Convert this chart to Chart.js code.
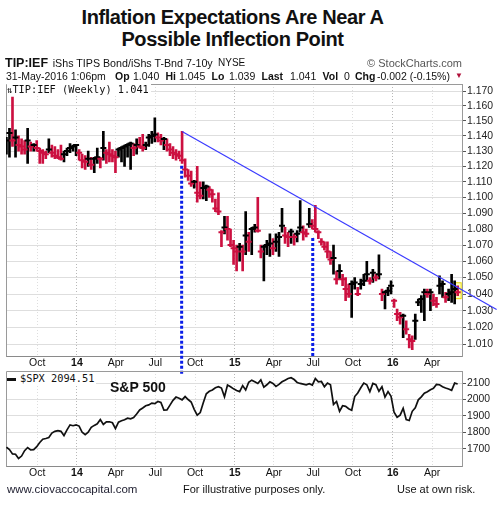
<!DOCTYPE html>
<html>
<head>
<meta charset="utf-8">
<script src="https://cdn.jsdelivr.net/npm/chart.js@4.4.1/dist/chart.umd.min.js"></script>
<style>
  body { margin: 0; background: #fff; }
  #wrap { position: relative; width: 497px; height: 509px; overflow: hidden;
          font-family: Arial, "Liberation Sans", sans-serif; color: #111; }
  .t { position: absolute; white-space: nowrap; }
  canvas { position: absolute; left: 0; }
  .b { font-weight: bold; }
  .mono { font-family: "DejaVu Sans Mono", monospace; font-size: 10.3px; line-height: 12px; background: #fff; }
</style>
</head>
<body>
<div id="wrap">
  <canvas id="priceChart" width="497" height="300" style="top:78px"></canvas>
  <canvas id="spxChart" width="497" height="112" style="top:368px"></canvas>

  <div class="t b" style="left:0;width:465px;top:6px;text-align:center;font-size:20px;line-height:22px;letter-spacing:-0.4px">Inflation Expectations Are Near A<br>Possible Inflection Point</div>

  <!-- header line 1 -->
  <div class="t b" style="left:5px;top:56px;font-size:12.5px;line-height:14px">TIP:IEF</div>
  <div class="t" style="left:52.7px;top:56px;font-size:10.7px;line-height:14px">iShs TIPS Bond/iShs T-Bnd 7-10y</div>
  <div class="t" style="left:218px;top:56px;font-size:10px;line-height:14px">NYSE</div>
  <div class="t" style="right:35px;top:56px;font-size:11px;line-height:14px;color:#555">© StockCharts.com</div>

  <!-- header line 2 -->
  <div class="t" style="left:6px;top:69px;font-size:10.5px;line-height:14px">31-May-2016 1:06pm</div>
  <div class="t b" style="left:115px;top:69px;font-size:10.5px;line-height:14px">Op</div>
  <div class="t" style="left:133px;top:69px;font-size:10.5px;line-height:14px">1.040</div>
  <div class="t b" style="left:165.5px;top:69px;font-size:10.5px;line-height:14px">Hi</div>
  <div class="t" style="left:179px;top:69px;font-size:10.5px;line-height:14px">1.045</div>
  <div class="t b" style="left:211.5px;top:69px;font-size:10.5px;line-height:14px">Lo</div>
  <div class="t" style="left:229px;top:69px;font-size:10.5px;line-height:14px">1.039</div>
  <div class="t b" style="left:261.5px;top:69px;font-size:10.5px;line-height:14px">Last</div>
  <div class="t" style="left:290px;top:69px;font-size:10.5px;line-height:14px">1.041</div>
  <div class="t b" style="left:322.5px;top:69px;font-size:10.5px;line-height:14px">Vol</div>
  <div class="t" style="left:344px;top:69px;font-size:10.5px;line-height:14px">0</div>
  <div class="t b" style="left:355px;top:69px;font-size:10.5px;line-height:14px">Chg</div>
  <div class="t" style="left:377px;top:69px;font-size:10.5px;line-height:14px">-0.002 (-0.15%)</div>
  <div class="t" style="left:455px;top:69px;font-size:8px;line-height:14px;color:#b0103a">▼</div>

  <!-- legends -->
  <div class="t mono" style="left:7px;top:83px;padding-right:2px"><span style="font-size:9px">⇅</span>TIP:IEF (Weekly) 1.041</div>
  <div class="t mono" style="left:7px;top:372px;padding-right:2px"><span style="display:inline-block;width:9px;height:3px;background:#111;vertical-align:middle;margin-right:4px"></span>$SPX 2094.51</div>
  <div class="t b" style="left:110px;top:379px;font-size:14px;line-height:16px">S&amp;P 500</div>

  <!-- footer -->
  <div class="t" style="left:7px;top:482px;font-size:11.5px;line-height:14px;color:#223">www.ciovaccocapital.com</div>
  <div class="t" style="left:183px;top:482px;font-size:11px;line-height:14px">For illustrative purposes only.</div>
  <div class="t" style="left:397px;top:482px;font-size:11px;line-height:14px">Use at own risk.</div>
</div>

<script>
// weekly bars, first week starts here
const firstWeek = '2013-07-22';
const axisStart = '2013-07-21';
const axisEnd = '2016-06-09';

const tickDates = ['2013-10-01', '2014-01-01', '2014-04-01', '2014-07-01', '2014-10-01', '2015-01-01',
  '2015-04-01', '2015-07-01', '2015-10-01', '2016-01-01', '2016-04-01'];
const tickLabels = ['Oct', '14', 'Apr', 'Jul', 'Oct', '15', 'Apr', 'Jul', 'Oct', '16', 'Apr'];

const priceTicks = [1.010, 1.020, 1.030, 1.040, 1.050, 1.060, 1.070, 1.080, 1.090,
  1.100, 1.110, 1.120, 1.130, 1.140, 1.150, 1.160, 1.170];
const spxTicks = [1700, 1800, 1900, 2000, 2100];

// TIP:IEF weekly high / low / close
const highs = [
  1.139, 1.145, 1.166, 1.144, 1.140, 1.138, 1.137, 1.145, 1.136, 1.135,
  1.137, 1.132, 1.131, 1.130, 1.138, 1.134, 1.133, 1.131, 1.134, 1.130,
  1.132, 1.135, 1.134, 1.134, 1.131, 1.128, 1.127, 1.130, 1.126, 1.126,
  1.132, 1.126, 1.143, 1.131, 1.136, 1.131, 1.130, 1.132, 1.133, 1.134,
  1.135, 1.136, 1.135, 1.138, 1.139, 1.141, 1.136, 1.141, 1.143, 1.152,
  1.142, 1.141, 1.139, 1.138, 1.135, 1.133, 1.131, 1.130, 1.143, 1.125,
  1.118, 1.117, 1.111, 1.120, 1.110, 1.110, 1.108, 1.107, 1.105, 1.099,
  1.103, 1.079, 1.088, 1.088, 1.080, 1.073, 1.070, 1.071, 1.070, 1.091,
  1.078, 1.081, 1.083, 1.100, 1.070, 1.070, 1.073, 1.077, 1.074, 1.077,
  1.078, 1.093, 1.081, 1.078, 1.080, 1.077, 1.079, 1.098, 1.082, 1.080,
  1.093, 1.086, 1.095, 1.079, 1.074, 1.072, 1.072, 1.066, 1.070, 1.054,
  1.058, 1.052, 1.050, 1.046, 1.048, 1.050, 1.044, 1.049, 1.052, 1.060,
  1.050, 1.055, 1.052, 1.064, 1.043, 1.042, 1.044, 1.048, 1.037, 1.031,
  1.029, 1.028, 1.024, 1.016, 1.015, 1.028, 1.037, 1.039, 1.043, 1.043,
  1.043, 1.040, 1.038, 1.051, 1.048, 1.041, 1.043, 1.052, 1.048, 1.045
];
const lows = [
  1.128, 1.126, 1.133, 1.126, 1.130, 1.128, 1.128, 1.122, 1.130, 1.130,
  1.130, 1.122, 1.122, 1.125, 1.129, 1.126, 1.125, 1.125, 1.124, 1.123,
  1.127, 1.129, 1.130, 1.127, 1.124, 1.119, 1.118, 1.120, 1.118, 1.116,
  1.122, 1.119, 1.124, 1.122, 1.123, 1.123, 1.116, 1.126, 1.123, 1.120,
  1.126, 1.118, 1.127, 1.128, 1.132, 1.130, 1.131, 1.133, 1.135, 1.136,
  1.136, 1.134, 1.131, 1.130, 1.127, 1.125, 1.124, 1.125, 1.122, 1.113,
  1.111, 1.107, 1.106, 1.097, 1.099, 1.099, 1.098, 1.100, 1.097, 1.091,
  1.089, 1.069, 1.077, 1.073, 1.069, 1.058, 1.054, 1.060, 1.054, 1.064,
  1.066, 1.064, 1.078, 1.078, 1.062, 1.048, 1.064, 1.063, 1.064, 1.066,
  1.063, 1.078, 1.071, 1.069, 1.071, 1.070, 1.072, 1.078, 1.073, 1.075,
  1.081, 1.080, 1.078, 1.074, 1.070, 1.067, 1.062, 1.058, 1.052, 1.046,
  1.049, 1.045, 1.036, 1.038, 1.026, 1.043, 1.039, 1.043, 1.045, 1.048,
  1.046, 1.047, 1.048, 1.049, 1.036, 1.031, 1.039, 1.040, 1.032, 1.024,
  1.022, 1.014, 1.016, 1.008, 1.007, 1.013, 1.033, 1.029, 1.024, 1.038,
  1.030, 1.033, 1.032, 1.040, 1.038, 1.035, 1.036, 1.035, 1.034, 1.039
];
const closes = [
  1.137, 1.142, 1.137, 1.139, 1.134, 1.133, 1.131, 1.137, 1.133, 1.134,
  1.132, 1.130, 1.129, 1.128, 1.131, 1.129, 1.127, 1.126, 1.125, 1.128,
  1.130, 1.132, 1.133, 1.134, 1.129, 1.124, 1.123, 1.125, 1.121, 1.125,
  1.126, 1.125, 1.132, 1.129, 1.128, 1.127, 1.126, 1.131, 1.132, 1.133,
  1.134, 1.135, 1.132, 1.134, 1.133, 1.132, 1.134, 1.139, 1.140, 1.141,
  1.139, 1.137, 1.138, 1.134, 1.131, 1.129, 1.128, 1.127, 1.124, 1.118,
  1.114, 1.109, 1.110, 1.103, 1.101, 1.106, 1.107, 1.105, 1.102, 1.093,
  1.091, 1.078, 1.081, 1.080, 1.070, 1.068, 1.066, 1.069, 1.066, 1.076,
  1.072, 1.080, 1.081, 1.079, 1.066, 1.069, 1.070, 1.071, 1.068, 1.072,
  1.075, 1.082, 1.076, 1.075, 1.0785, 1.075, 1.077, 1.081, 1.078, 1.077,
  1.083, 1.082, 1.080, 1.078, 1.072, 1.069, 1.066, 1.061, 1.062, 1.049,
  1.054, 1.049, 1.043, 1.040, 1.046, 1.047, 1.040, 1.046, 1.048, 1.052,
  1.048, 1.053, 1.050, 1.052, 1.040, 1.041, 1.042, 1.045, 1.036, 1.028,
  1.026, 1.027, 1.019, 1.013, 1.012, 1.024, 1.035, 1.037, 1.041, 1.040,
  1.041, 1.036, 1.034, 1.045, 1.046, 1.038, 1.040, 1.041, 1.043, 1.041
];

// $SPX weekly closes
const spx = [
  1709, 1695, 1668, 1666, 1640, 1655, 1688, 1707, 1692, 1694,
  1712, 1738, 1758, 1762, 1768, 1795, 1806, 1810, 1806, 1780,
  1815, 1845, 1840, 1845, 1838, 1800, 1786, 1800, 1830, 1842,
  1852, 1878, 1848, 1864, 1864, 1858, 1822, 1862, 1870, 1876,
  1886, 1882, 1890, 1912, 1936, 1948, 1962, 1967, 1978, 1975,
  1988, 1982, 1935, 1937, 1966, 1995, 2015, 2008, 1998, 2018,
  2000, 1985, 1940, 1905, 1920, 1980, 2035, 2050, 2058, 2072,
  2078, 2070, 2017, 2088, 2078, 2065, 2055, 2048, 2085, 2058,
  2105, 2118, 2108, 2098, 2120, 2075, 2090, 2108, 2098, 2080,
  2092, 2108, 2118, 2128, 2133, 2122, 2104, 2098, 2094, 2090,
  2096, 2088, 2128, 2108, 2110, 2078, 2100, 2090, 1970, 1988,
  1928, 1962, 1958, 1944, 1935, 2018, 2040, 2072, 2100, 2090,
  2048, 2098, 2090, 2050, 2078, 2015, 2048, 2020, 1922, 1892,
  1905, 1946, 1878, 1872, 1928, 1950, 1998, 2016, 2038, 2048,
  2060, 2068, 2092, 2090, 2078, 2070, 2064, 2056, 2100, 2094.51
];

// annotations
const trendDates = ['2014-09-01', '2016-08-28'];
const trendValues = [1.143, 1.0307];
const markerDates = ['2014-08-31', '2015-06-30'];
const markerTops = [1.1205, 1.0744];
const markerBottoms = [0.9924, 1.003];

const fontFamily = 'Arial, "Liberation Sans", sans-serif';
const red = '#cc1040';
Chart.defaults.font.family = fontFamily;

const dayOf = s => (Date.parse(s) - Date.parse(firstWeek)) / 864e5;
const weekDays = closes.map((c, i) => i * 7);
const isYear = i => /^\d+$/.test(tickLabels[i] || '');
const barColors = closes.map((c, i) => (i > 0 && c < closes[i - 1]) ? red : '#000');

function timeAxis(axisHeight) {
  return {
    type: 'linear',
    min: dayOf(axisStart),
    max: dayOf(axisEnd),
    offset: false,
    bounds: 'data',
    afterBuildTicks: s => { s.ticks = tickDates.map(d => ({ value: dayOf(d) })); },
    afterFit: s => { s.height = axisHeight; s.paddingLeft = 0; s.paddingRight = 0; },
    grid: { drawTicks: false, offset: false, color: c => isYear(c.index) ? '#b8b8b8' : '#dedede' },
    border: { display: true, color: '#8a8a8a', dash: [1, 2] },
    ticks: {
      autoSkip: false, maxRotation: 0, padding: 0, color: '#111',
      font: c => ({ family: fontFamily, size: 10.5, weight: isYear(c.index) ? 'bold' : 'normal' }),
      callback: (v, i) => tickLabels[i]
    }
  };
}

function valueAxis(type, min, max, ticks, fmt) {
  return {
    type: type,
    position: 'right',
    min: min,
    max: max,
    bounds: 'data',
    afterBuildTicks: s => { s.ticks = ticks.map(v => ({ value: v })); },
    afterFit: s => { s.width = 35; s.paddingTop = 0; s.paddingBottom = 0; },
    grid: { color: '#dedede', tickLength: 4, tickColor: '#555' },
    border: { display: true, color: '#9a9a9a' },
    ticks: { autoSkip: false, padding: 1, color: '#222', font: { size: 10.4 }, callback: fmt }
  };
}

// left and top edge of each panel
const panelFrame = {
  id: 'panelFrame',
  beforeDatasetsDraw(chart) {
    const { ctx, chartArea: a } = chart;
    ctx.save();
    ctx.strokeStyle = '#9a9a9a';
    ctx.lineWidth = 1;
    ctx.beginPath();
    ctx.moveTo(a.left + 0.5, a.bottom);
    ctx.lineTo(a.left + 0.5, a.top + 0.5);
    ctx.lineTo(a.right, a.top + 0.5);
    ctx.stroke();
    ctx.restore();
  }
};

// yellow box round the current week
const lastBarBox = {
  id: 'lastBarBox',
  beforeDatasetsDraw(chart) {
    const i = closes.length - 1;
    const x = chart.scales.x.getPixelForValue(weekDays[i]);
    const yTop = chart.scales.y.getPixelForValue(highs[i]);
    const yBot = chart.scales.y.getPixelForValue(lows[i]);
    const ctx = chart.ctx;
    ctx.save();
    ctx.fillStyle = '#ffffc0';
    ctx.strokeStyle = '#e8d800';
    ctx.lineWidth = 1;
    ctx.fillRect(x - 3.5, yTop - 3, 7, yBot - yTop + 6);
    ctx.strokeRect(x - 3.5, yTop - 3, 7, yBot - yTop + 6);
    ctx.restore();
  }
};

new Chart(document.getElementById('priceChart'), {
  type: 'bar',
  data: {
    datasets: [
      {
        type: 'bar',
        data: weekDays.map((d, i) => ({ x: d, y: [lows[i], highs[i]] })),
        backgroundColor: barColors,
        barThickness: 2,
        borderWidth: 0,
        order: 4
      },
      {
        type: 'line',
        data: weekDays.map((d, i) => ({ x: d, y: closes[i] })),
        showLine: false,
        pointStyle: 'line',
        pointRadius: 3,
        pointBorderWidth: 2,
        pointBorderColor: barColors,
        pointBackgroundColor: barColors,
        order: 3
      },
      {
        type: 'line',
        data: trendDates.map((d, i) => ({ x: dayOf(d), y: trendValues[i] })),
        borderColor: '#3a3aff',
        borderWidth: 1.2,
        pointRadius: 0,
        clip: false,
        order: 1
      },
      ...markerDates.map((d, i) => ({
        type: 'line',
        data: [{ x: dayOf(d), y: markerTops[i] }, { x: dayOf(d), y: markerBottoms[i] }],
        borderColor: '#0a1ee8',
        borderWidth: 3,
        borderDash: [3, 2],
        pointRadius: 0,
        clip: false,
        order: 0
      }))
    ]
  },
  options: {
    responsive: false,
    animation: false,
    layout: { padding: { top: 3, left: 6, right: 0, bottom: 0 } },
    plugins: { legend: { display: false }, tooltip: { enabled: false } },
    scales: {
      x: timeAxis(21.3),
      y: valueAxis('logarithmic', 1.00283, 1.1749, priceTicks, v => Number(v).toFixed(3))
    }
  },
  plugins: [panelFrame, lastBarBox]
});

new Chart(document.getElementById('spxChart'), {
  type: 'line',
  data: {
    datasets: [{
      data: weekDays.map((d, i) => ({ x: d, y: spx[i] })),
      borderColor: '#111',
      borderWidth: 1.7,
      pointRadius: 0,
      tension: 0
    }]
  },
  options: {
    responsive: false,
    animation: false,
    layout: { padding: { top: 3, left: 6, right: 0, bottom: 0 } },
    plugins: { legend: { display: false }, tooltip: { enabled: false } },
    scales: {
      x: timeAxis(13.3),
      y: valueAxis('linear', 1590, 2174, spxTicks, v => String(v))
    }
  },
  plugins: [panelFrame]
});
</script>
</body>
</html>
